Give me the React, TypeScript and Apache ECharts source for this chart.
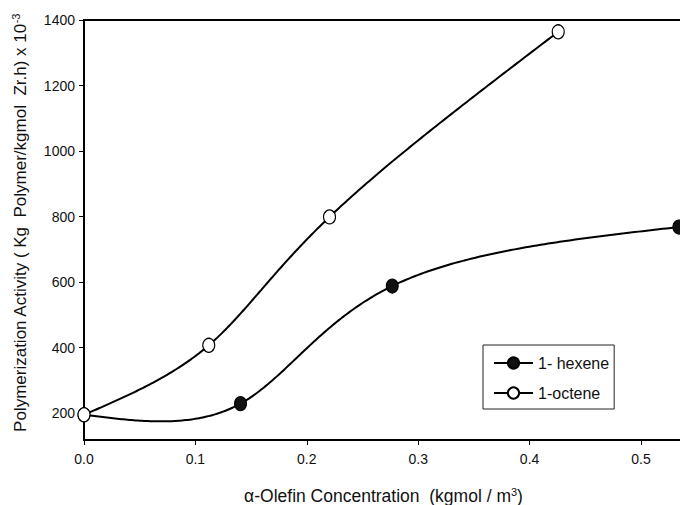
import React, { useEffect, useRef } from "react";
import * as echarts from "echarts";

const xTicks = [0, 0.1, 0.2, 0.3, 0.4, 0.5];
const yTicks = [200, 400, 600, 800, 1000, 1200, 1400];
const hexeneX = [0, 0.1405, 0.2767, 0.534];
const hexeneY = [195, 229, 588, 768];
const octeneX = [0, 0.112, 0.2204, 0.4257];
const octeneY = [195, 407, 799, 1364];
const seriesNames = ["1- hexene", "1-octene"];

const FONT = "'Liberation Sans', Arial, Helvetica, sans-serif";

// natural cubic spline over a uniform parameter (index), used only to render the curve
function naturalSpline(vals: number[]) {
  const n = vals.length;
  const M = new Array(n).fill(0);
  const m = n - 2;
  if (m > 0) {
    const b: number[] = [], c: number[] = [], d: number[] = [], a: number[] = [];
    for (let i = 1; i <= m; i++) {
      a.push(1);
      b.push(4);
      c.push(1);
      d.push(6 * (vals[i + 1] - 2 * vals[i] + vals[i - 1]));
    }
    for (let i = 1; i < m; i++) {
      const w = a[i] / b[i - 1];
      b[i] -= w * c[i - 1];
      d[i] -= w * d[i - 1];
    }
    const sol = new Array(m).fill(0);
    sol[m - 1] = d[m - 1] / b[m - 1];
    for (let i = m - 2; i >= 0; i--) sol[i] = (d[i] - c[i] * sol[i + 1]) / b[i];
    for (let i = 0; i < m; i++) M[i + 1] = sol[i];
  }
  return (t: number) => {
    let i = Math.min(Math.floor(t), n - 2);
    if (i < 0) i = 0;
    const t0 = t - i;
    const t1 = 1 - t0;
    return (
      (M[i] * t1 * t1 * t1) / 6 +
      (M[i + 1] * t0 * t0 * t0) / 6 +
      (vals[i] - M[i] / 6) * t1 +
      (vals[i + 1] - M[i + 1] / 6) * t0
    );
  };
}

function curveSeries(name: string, xs: number[], ys: number[]) {
  const fx = naturalSpline(xs);
  const fy = naturalSpline(ys);
  return {
    name,
    type: "custom",
    z: 1,
    silent: true,
    data: xs.map((x, i) => [x, ys[i]]),
    encode: { x: 0, y: 1 },
    renderItem: (params: any, api: any) => {
      if (params.dataIndex !== 0) return null;
      const pts: number[][] = [];
      const T = xs.length - 1;
      const steps = 240;
      for (let k = 0; k <= steps; k++) {
        const t = (T * k) / steps;
        pts.push(api.coord([fx(t), fy(t)]));
      }
      return {
        type: "polyline",
        shape: { points: pts },
        style: { stroke: "#000", lineWidth: 2, fill: "none" },
      };
    },
  };
}

export default function App() {
  const ref = useRef<HTMLDivElement>(null);
  useEffect(() => {
    document.body.style.margin = "0";
    const chart = echarts.init(ref.current!, null, { renderer: "svg" });
    const pair = (xs: number[], ys: number[]) => xs.map((x, i) => [x, ys[i]]);
    chart.setOption({
      animation: false,
      backgroundColor: "#fff",
      grid: {
        left: 84,
        right: -10,
        top: 20,
        bottom: 65,
        show: true,
        borderColor: "#000",
        borderWidth: 2,
        containLabel: false,
        outerBoundsMode: "none",
      },
      xAxis: {
        type: "value",
        min: 0,
        max: 0.544,
        splitLine: { show: false },
        axisLine: { lineStyle: { color: "#000", width: 2 } },
        axisTick: { show: true, length: 5, lineStyle: { color: "#000", width: 1 }, customValues: xTicks },
        axisLabel: {
          customValues: xTicks,
          formatter: (v: number) => v.toFixed(1),
          fontSize: 14,
          color: "#111",
          fontFamily: FONT,
          margin: 12,
        },
        name: "{a|α-Olefin Concentration  (kgmol / m}{s|3}{a|)}",
        nameLocation: "middle",
        nameGap: 46,
        nameTextStyle: {
          padding: [0, 7, 0, 0],
          rich: {
            a: { fontSize: 17.5, color: "#111", fontFamily: FONT, lineHeight: 20 },
            s: { fontSize: 11, color: "#111", fontFamily: FONT, verticalAlign: "top", lineHeight: 20 },
          },
        },
      },
      yAxis: {
        type: "value",
        min: 118,
        max: 1400,
        splitLine: { show: false },
        axisLine: { lineStyle: { color: "#000", width: 2 } },
        axisTick: { show: true, length: 5, lineStyle: { color: "#000", width: 1 }, customValues: yTicks },
        axisLabel: {
          customValues: yTicks,
          formatter: (v: number) => String(v),
          fontSize: 14,
          color: "#111",
          fontFamily: FONT,
          margin: 9,
        },
        name: "{a|Polymerization Activity ( Kg  Polymer/kgmol  Zr.h) x 10}{s|-3}",
        nameLocation: "middle",
        nameGap: 54,
        nameTextStyle: {
          padding: [0, 0, 0, 14],
          rich: {
            a: { fontSize: 17, color: "#111", fontFamily: FONT, lineHeight: 20 },
            s: { fontSize: 11, color: "#111", fontFamily: FONT, verticalAlign: "top", lineHeight: 20 },
          },
        },
      },
      legend: {
        orient: "vertical",
        left: 483,
        top: 345,
        data: seriesNames,
        itemWidth: 39,
        itemHeight: 14,
        itemGap: 14,
        padding: [10, 5, 8, 10],
        borderColor: "#222",
        borderWidth: 1,
        lineStyle: { color: "#000", width: 2, opacity: 1 },
        textStyle: { fontSize: 16, color: "#111", fontFamily: FONT },
      },
      series: [
        curveSeries("hexene-curve", hexeneX, hexeneY),
        curveSeries("octene-curve", octeneX, octeneY),
        {
          name: seriesNames[0],
          type: "line",
          z: 3,
          data: pair(hexeneX, hexeneY),
          symbol: "circle",
          symbolSize: [12, 14],
          lineStyle: { color: "#000", width: 2, opacity: 0 },
          itemStyle: { color: "#111", borderColor: "#000", borderWidth: 1 },
        },
        {
          name: seriesNames[1],
          type: "line",
          z: 4,
          data: pair(octeneX, octeneY),
          symbol: "circle",
          symbolSize: [12, 14],
          lineStyle: { color: "#000", width: 2, opacity: 0 },
          itemStyle: { color: "#fff", borderColor: "#000", borderWidth: 1.2 },
        },
      ],
    });
    return () => chart.dispose();
  }, []);
  return <div ref={ref} style={{ width: 680, height: 505 }} />;
}
